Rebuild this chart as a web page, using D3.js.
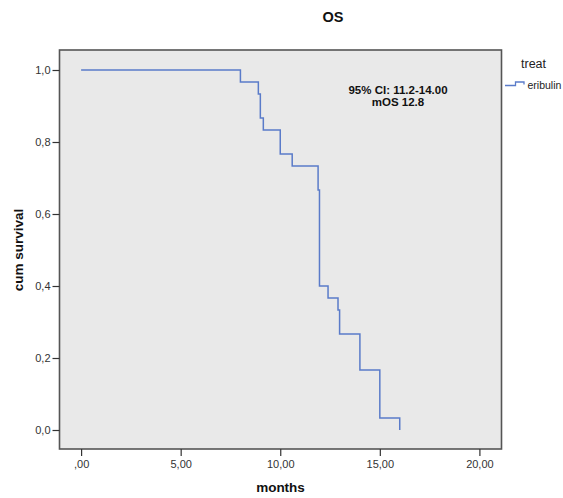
<!DOCTYPE html>
<html>
<head>
<meta charset="utf-8">
<script src="https://cdn.jsdelivr.net/npm/d3@7"></script>
<style>
  html, body { margin: 0; padding: 0; background: #ffffff; }
  svg { display: block; font-family: "Liberation Sans", Arial, sans-serif; }
</style>
</head>
<body>
<svg id="chart" width="563" height="498"></svg>
<script>
// Data
const times    = [0, 8.0, 8.9, 9.0, 9.15, 10.0, 10.6, 11.9, 11.97, 12.4, 12.9, 12.98, 14.0, 15.0, 16.0];
const survival = [1.0, 0.967, 0.933, 0.867, 0.833, 0.767, 0.733, 0.667, 0.400, 0.367, 0.333, 0.267, 0.167, 0.033, 0.0];
const xTicks = [0, 5, 10, 15, 20];
const xTickLabels = [",00", "5,00", "10,00", "15,00", "20,00"];
const yTicks = [0, 0.2, 0.4, 0.6, 0.8, 1.0];
const yTickLabels = ["0,0", "0,2", "0,4", "0,6", "0,8", "1,0"];
const seriesName = "eribulin";
const legendTitle = "treat";
const chartTitle = "OS";
const annotation = ["95% CI: 11.2-14.00", "mOS 12.8"];

const svg = d3.select("#chart");
const box = { left: 59.5, top: 50, right: 501.5, bottom: 449 };

const x = d3.scaleLinear().domain([0, 20]).range([81.1, 479.4]);
const y = d3.scaleLinear().domain([0, 1]).range([430, 70]);

// plot background box
svg.append("rect")
  .attr("x", box.left).attr("y", box.top)
  .attr("width", box.right - box.left).attr("height", box.bottom - box.top)
  .attr("fill", "#e9e9e9").attr("stroke", "#555555").attr("stroke-width", 1.6);

// axes
const yAxis = d3.axisLeft(y).tickValues(yTicks).tickSize(7).tickSizeOuter(0)
  .tickFormat((d, i) => yTickLabels[i]).tickPadding(2);
const gy = svg.append("g").attr("transform", `translate(${box.left},0)`).call(yAxis);
gy.select(".domain").remove();
gy.selectAll(".tick line").attr("stroke", "#333").attr("stroke-width", 1.2);
gy.selectAll(".tick text").attr("font-size", 11).attr("fill", "#333");

const xAxis = d3.axisBottom(x).tickValues(xTicks).tickSize(7).tickSizeOuter(0)
  .tickFormat((d, i) => xTickLabels[i]).tickPadding(4);
const gx = svg.append("g").attr("transform", `translate(0,${box.bottom})`).call(xAxis);
gx.select(".domain").remove();
gx.selectAll(".tick line").attr("stroke", "#333").attr("stroke-width", 1.2);
gx.selectAll(".tick text").attr("font-size", 11).attr("fill", "#333");

// KM curve
const pts = times.map((t, i) => [t, survival[i]]);
const line = d3.line().x(d => x(d[0])).y(d => y(d[1])).curve(d3.curveStepAfter);
svg.append("path").datum(pts)
  .attr("d", line).attr("fill", "none")
  .attr("stroke", "#5a7bc9").attr("stroke-width", 1.5);

// title
svg.append("text").attr("x", 333).attr("y", 22).attr("text-anchor", "middle")
  .attr("font-size", 14.5).attr("font-weight", "bold").attr("fill", "#111").text(chartTitle);

// annotation
svg.append("text").attr("x", 398).attr("y", 93.5).attr("text-anchor", "middle")
  .attr("font-size", 11.5).attr("font-weight", "bold").attr("fill", "#111").text(annotation[0]);
svg.append("text").attr("x", 398).attr("y", 105.5).attr("text-anchor", "middle")
  .attr("font-size", 11.5).attr("font-weight", "bold").attr("fill", "#111").text(annotation[1]);

// axis titles
svg.append("text").attr("x", 280.5).attr("y", 492).attr("text-anchor", "middle")
  .attr("font-size", 13.5).attr("font-weight", "bold").attr("fill", "#111").text("months");
svg.append("text").attr("transform", "translate(23,250) rotate(-90)").attr("text-anchor", "middle")
  .attr("font-size", 13.5).attr("font-weight", "bold").attr("fill", "#111").text("cum survival");

// legend
svg.append("text").attr("x", 521).attr("y", 68).attr("font-size", 12.5).attr("fill", "#222").text(legendTitle);
svg.append("path")
  .attr("d", "M505,85.5 H515.5 V82 H524 V84.5")
  .attr("fill", "none").attr("stroke", "#5a7bc9").attr("stroke-width", 1.3);
svg.append("text").attr("x", 527.5).attr("y", 88.5).attr("font-size", 10.5).attr("fill", "#222").text(seriesName);
</script>
</body>
</html>
